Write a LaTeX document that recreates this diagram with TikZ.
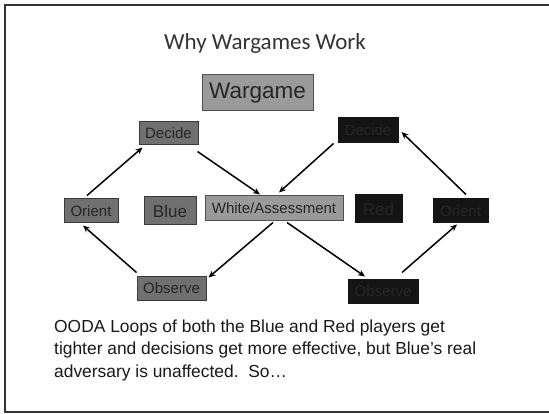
\documentclass[tikz,border=0pt]{standalone}
\usepackage{fontspec}
\setmainfont{Liberation Sans}
\newfontfamily\titlefont{Carlito}
\usetikzlibrary{calc,arrows.meta}

\definecolor{framecol}{HTML}{333333}
\definecolor{bluefill}{HTML}{707070}
\definecolor{blueedge}{HTML}{3A3A3A}
\definecolor{whitefill}{HTML}{9A9A9A}
\definecolor{whiteedge}{HTML}{505050}
\definecolor{redfill}{HTML}{141414}
\definecolor{redtext}{HTML}{262626}
\definecolor{labeltext}{HTML}{262626}

\tikzset{
  box/.style={draw, line width=1pt, inner sep=0pt, text=labeltext,
    font=\fontsize{15}{15}\selectfont},
  bluebox/.style={box, fill=bluefill, draw=blueedge},
  whitebox/.style={box, fill=whitefill, draw=whiteedge},
  redbox/.style={box, fill=redfill, draw=redfill, text=redtext},
  arr/.style={line width=1.5pt, -{Stealth[length=7pt,width=6pt]}, black}
}

\begin{document}
\begin{tikzpicture}[x=1pt,y=-1pt]
\useasboundingbox (0,0) rectangle (549,414);
\fill[white] (0,0) rectangle (549,414);
% slide frame, open on the right where the page ends
\draw[framecol, line width=2pt] (560,5) -- (5.3,5) -- (5.3,412) -- (560,412);

% title and game box
\node[text=framecol, font=\titlefont\fontsize{23}{23}\selectfont] (title) at (265,43) {Why Wargames Work};
\node[whitebox, minimum width=111pt, minimum height=36pt,
  font=\fontsize{22.5}{22.5}\selectfont] (game) at (257.5,93) {Wargame};

% Blue loop
\node[bluebox, minimum width=59pt, minimum height=23pt] (bdec) at (168.5,133.5) {Decide};
\node[bluebox, minimum width=54pt, minimum height=24pt] (bor) at (91,211) {Orient};
\node[bluebox, minimum width=52pt, minimum height=28pt,
  font=\fontsize{17}{17}\selectfont] (blue) at (170,211) {Blue};
\node[bluebox, minimum width=69pt, minimum height=24pt] (bobs) at (171.5,288) {Observe};

% shared assessment cell
\node[whitebox, minimum width=138pt, minimum height=25pt] (wa) at (274,208.5) {White/Assessment};

% Red loop
\node[redbox, minimum width=60pt, minimum height=25pt] (rdec) at (368,130.5) {Decide};
\node[redbox, minimum width=47pt, minimum height=28pt,
  font=\fontsize{17}{17}\selectfont] (red) at (378.5,209) {Red};
\node[redbox, minimum width=55pt, minimum height=24pt] (ror) at (460.5,211) {Orient};
\node[redbox, minimum width=70pt, minimum height=24pt] (robs) at (383,291) {Observe};

% Blue cycle
\draw[arr] ($(bor.north)+(-4,-3)$) -- ($(bdec.south west)+(4,2)$);
\draw[arr] ($(bdec.south east)+(-1,6)$) -- ($(wa.north)+(-14,-1)$);
\draw[arr] ($(wa.south)+(-1,1)$) -- ($(bobs.north east)+(2,2)$);
\draw[arr] ($(bobs.north west)+(0,-3)$) -- ($(bor.south)+(-8,2)$);

% Red cycle
\draw[arr] ($(rdec.south west)+(-4,0)$) -- ($(wa.north)+(5,-3)$);
\draw[arr] ($(wa.south)+(13,1)$) -- ($(robs.north)+(-18,-2)$);
\draw[arr] ($(robs.north)+(19,-6)$) -- ($(ror.south)+(-3.5,1)$);
\draw[arr] ($(ror.north)+(5.5,-4)$) -- ($(rdec.east)+(3,1.5)$);

% caption
\node[anchor=north west, inner sep=0pt, align=left, text=black!90,
  font=\fontsize{17.4}{22.5}\selectfont] (caption) at (54,319.5)
  {OODA Loops of both the Blue and Red players get\\
   tighter and decisions get more effective, but Blue’s real\\
   adversary is unaffected.\ \ So…};
\end{tikzpicture}
\end{document}
